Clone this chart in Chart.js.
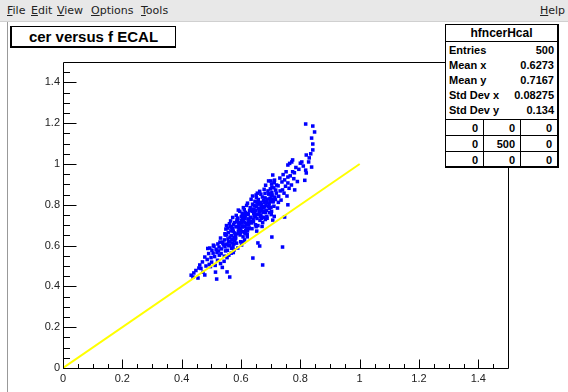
<!DOCTYPE html>
<html>
<head>
<meta charset="utf-8">
<script src="https://cdn.jsdelivr.net/npm/chart.js@4.4.1/dist/chart.umd.min.js"></script>
<style>
  html, body { margin:0; padding:0; background:#fff; }
  #wrap { position:relative; width:568px; height:392px; overflow:hidden; background:#fff; }
  #c { position:absolute; left:0; top:0; }
  #menu { position:absolute; left:0; top:0; width:568px; height:21px; background:#e8e8e8; border-bottom:1px solid #d0d0d0;
          font-family:"DejaVu Sans", sans-serif; font-size:11px; color:#222; }
  #menu span { position:absolute; top:4px; }
  #menu u { text-decoration:underline; }
  #leftline { position:absolute; left:7px; top:22px; width:0; height:370px; border-left:1px solid #999; }
  #title { position:absolute; left:10px; top:26px; width:163px; height:19px; border:1px solid #000; border-left:2px solid #000; border-bottom:2px solid #000;
           background:#fff; font-family:"Liberation Sans", Arial, sans-serif; font-weight:bold; font-size:15px; line-height:19px; text-align:center; color:#000; }
  #stats { position:absolute; left:445px; top:24px; width:111px; height:141px; border:1px solid #000; border-right:2px solid #000; border-bottom:2px solid #000;
           background:#fff; font-family:"Liberation Sans", Arial, sans-serif; font-weight:bold; font-size:11px; color:#000; }
  #stats .t { position:absolute; left:0; top:0; width:111px; height:16px; line-height:16px; text-align:center; font-size:12px; border-bottom:1px solid #000; }
  #stats .r { position:absolute; left:3px; width:105px; height:15px; line-height:15px; }
  #stats .r .k { position:absolute; left:0; }
  #stats .r .v { position:absolute; right:0; }
  #stats .g { position:absolute; left:0; width:111px; height:16px; border-top:1px solid #000; }
  #stats .g span { position:absolute; top:0; line-height:16px; text-align:right; }
  #stats .vl { position:absolute; top:94px; width:0; height:47px; border-left:1px solid #000; }
</style>
</head>
<body>
<div id="wrap">
  <canvas id="c" width="568" height="392"></canvas>
  <div id="menu">
    <span style="left:7px"><u>F</u>ile</span>
    <span style="left:31px"><u>E</u>dit</span>
    <span style="left:57px"><u>V</u>iew</span>
    <span style="left:91px"><u>O</u>ptions</span>
    <span style="left:141px"><u>T</u>ools</span>
    <span style="left:540px"><u>H</u>elp</span>
  </div>
  <div id="leftline"></div>
  <div id="title">cer versus f ECAL</div>
  <div id="stats"></div>
</div>
<script>
// ---- data ----
const statsName = "hfncerHcal";
const statLabels = ["Entries", "Mean x", "Mean y", "Std Dev x", "Std Dev y"];
const statValues = ["500", "0.6273", "0.7167", "0.08275", "0.134"];
const overflowGrid = [["0","0","0"],["0","500","0"],["0","0","0"]];

const xTickLabels = [0, 0.2, 0.4, 0.6, 0.8, 1, 1.2, 1.4];
const yTickLabels = [0, 0.2, 0.4, 0.6, 0.8, 1, 1.2, 1.4];
const xRange = [0, 1.5];
const yRange = [0, 1.5];

// reference line cer = f
const lineX = [0, 1];
const lineY = [0, 1];

// scatter: f ECAL (x) vs cer (y)
const fEcal = [
  0.432,0.441,0.438,0.455,0.448,0.461,0.465,0.472,0.478,0.478,0.470,0.482,0.458,
  0.486,0.491,0.493,0.495,0.499,0.502,0.501,0.506,0.509,0.511,0.513,0.516,0.518,0.519,0.522,0.521,0.526,0.527,0.529,0.531,0.488,0.497,0.507,0.514,0.524,
  0.534,0.531,0.537,0.539,0.533,0.546,0.541,0.544,0.548,0.543,
  0.547,0.552,0.549,0.546,0.556,0.551,0.553,0.558,0.554,0.557,
  0.556,0.561,0.563,0.559,0.566,0.562,0.562,0.564,0.568,0.567,
  0.571,0.565,0.569,0.574,0.572,0.576,0.573,0.578,0.575,0.579,
  0.577,0.574,0.581,0.579,0.576,0.583,0.553,0.567,0.572,0.544,
  0.538,0.551,0.559,0.569,0.561,
  0.583,0.586,0.581,0.588,0.584,0.591,0.585,0.593,0.589,0.589,
  0.594,0.588,0.597,0.592,0.596,0.599,0.593,0.601,0.598,0.603,
  0.599,0.604,0.607,0.602,0.608,0.606,0.611,0.604,0.612,0.609,
  0.614,0.608,0.616,0.611,0.617,0.613,0.619,0.621,0.615,0.618,
  0.623,0.622,0.619,0.626,0.624,0.628,0.621,0.629,0.627,0.632,
  0.626,0.582,0.595,0.598,0.606,0.612,0.613,0.624,0.625,0.587,
  0.592,0.601,0.605,0.614,0.616,0.628,0.602,0.609,0.622,0.591,
  0.633,0.631,0.636,0.638,0.634,0.641,0.637,0.643,0.639,0.640,
  0.645,0.642,0.647,0.644,0.649,0.646,0.651,0.648,0.652,0.653,
  0.649,0.656,0.654,0.658,0.655,0.659,0.657,0.657,0.661,0.662,
  0.658,0.664,0.661,0.666,0.663,0.665,0.668,0.663,0.669,0.671,
  0.667,0.672,0.673,0.669,0.674,0.673,0.676,0.677,0.675,0.678,
  0.679,0.676,0.681,0.682,0.635,0.642,0.647,0.654,0.661,0.668,
  0.678,0.639,0.651,0.667,0.644,0.656,0.671,0.683,0.637,0.652,
  0.684,0.681,0.686,0.689,0.683,0.692,0.687,0.694,0.688,0.691,
  0.696,0.693,0.698,0.695,0.699,0.697,0.702,0.699,0.703,0.701,
  0.704,0.706,0.702,0.704,0.704,0.708,0.705,0.707,0.707,0.711,
  0.709,0.712,0.714,0.711,0.717,0.716,0.720,0.719,0.723,0.725,
  0.727,0.731,0.686,0.694,0.703,0.713,0.726,0.688,0.701,0.712,
  0.732,0.735,0.738,0.740,0.740,0.742,0.745,0.747,0.747,0.750,
  0.752,0.755,0.758,0.758,0.758,0.758,0.762,0.764,0.766,0.770,
  0.771,0.774,0.774,0.778,0.780,0.781,0.785,0.790,0.795,0.800,
  0.805,0.810,0.815,0.818,0.818,0.820,0.820,0.828,0.830,0.838,0.838,0.842,0.842,0.842,0.848,0.835
];
const cer = [
  0.455,0.466,0.446,0.441,0.478,0.505,0.488,0.470,0.456,0.544,0.520,0.500,0.490,
  0.532,0.561,0.508,0.588,0.541,0.577,0.519,0.563,0.597,0.546,0.503,0.582,0.436,0.566,0.608,0.528,0.593,0.553,0.617,0.512,0.586,0.497,0.602,0.470,0.574,
  0.584,0.637,0.493,0.612,0.561,0.658,0.603,0.628,0.574,0.523,
  0.652,0.607,0.681,0.594,0.633,0.698,0.471,0.619,0.577,0.664,
  0.686,0.602,0.641,0.553,0.672,0.618,0.446,0.694,0.587,0.649,
  0.613,0.721,0.629,0.566,0.683,0.641,0.597,0.662,0.704,0.624,
  0.579,0.671,0.648,0.713,0.608,0.692,0.541,0.563,0.738,0.548,
  0.617,0.652,0.599,0.688,0.707,
  0.657,0.718,0.634,0.693,0.748,0.671,0.612,0.703,0.735,0.588,
  0.684,0.727,0.652,0.712,0.768,0.619,0.688,0.742,0.664,0.723,
  0.677,0.758,0.643,0.714,0.786,0.668,0.733,0.697,0.628,0.751,
  0.693,0.719,0.661,0.776,0.708,0.744,0.682,0.654,0.763,0.703,
  0.731,0.672,0.797,0.713,0.752,0.686,0.643,0.772,0.724,0.738,
  0.701,0.638,0.706,0.673,0.739,0.662,0.714,0.757,0.683,0.728,
  0.659,0.723,0.691,0.747,0.674,0.719,0.603,0.617,0.808,0.774,
  0.738,0.786,0.711,0.768,0.827,0.729,0.683,0.757,0.803,0.539,
  0.746,0.718,0.817,0.779,0.702,0.762,0.848,0.741,0.793,0.671,
  0.772,0.814,0.733,0.781,0.857,0.752,0.698,0.613,0.803,0.764,
  0.826,0.724,0.783,0.742,0.598,0.812,0.771,0.866,0.734,0.792,
  0.748,0.838,0.713,0.803,0.763,0.505,0.821,0.784,0.739,0.876,
  0.791,0.768,0.834,0.728,0.717,0.778,0.746,0.808,0.773,0.787,
  0.812,0.843,0.693,0.852,0.797,0.754,0.694,0.762,0.774,0.836,
  0.797,0.856,0.773,0.828,0.896,0.792,0.743,0.853,0.811,0.868,
  0.783,0.917,0.832,0.804,0.878,0.762,0.843,0.817,0.902,0.788,
  0.861,0.827,0.752,0.887,0.642,0.814,0.847,0.946,0.725,0.883,
  0.819,0.908,0.838,0.793,0.872,0.826,0.897,0.857,0.784,0.893,
  0.842,0.931,0.818,0.853,0.768,0.921,0.812,0.734,0.917,0.743,
  0.868,0.823,0.912,0.873,0.593,0.948,0.857,0.922,0.740,0.891,
  0.962,0.843,0.907,0.995,0.936,0.800,0.881,1.003,0.942,0.897,
  1.010,1.020,0.962,0.928,0.957,0.873,0.983,0.914,0.974,1.004,
  1.010,0.990,0.920,0.970,1.196,1.044,0.956,1.010,1.030,1.127,0.985,1.098,1.069,1.186,1.157,1.050
];
// minor tick marks (every 0.05) for the ROOT-style axes
const minorTicks = [0.05,0.1,0.15,0.25,0.3,0.35,0.45,0.5,0.55,0.65,0.7,0.75,0.85,0.9,0.95,1.05,1.1,1.15,1.25,1.3,1.35,1.45];

// ---- stats box ----
(function(){
  const box = document.getElementById('stats');
  let h = '<div class="t">' + statsName + '</div>';
  statLabels.forEach((k,i)=>{
    h += '<div class="r" style="top:' + (18 + i*15) + 'px"><span class="k">' + k + '</span><span class="v">' + statValues[i] + '</span></div>';
  });
  overflowGrid.forEach((row,r)=>{
    h += '<div class="g" style="top:' + (94 + r*16) + 'px">';
    row.forEach((v,c)=>{
      const right = [74, 37, 0][c] + 5;
      h += '<span style="right:' + right + 'px">' + v + '</span>';
    });
    h += '</div>';
  });
  h += '<div class="vl" style="left:37px"></div><div class="vl" style="left:74px"></div>';
  box.innerHTML = h;
})();

const fmt = v => String(Math.round(v*10)/10);

const rootAxes = {
  id: 'rootAxes',
  afterDatasetsDraw(chart) {
    const {ctx, chartArea: a, scales: {x, y}} = chart;
    ctx.save();
    ctx.strokeStyle = '#000';
    ctx.lineWidth = 1;
    ctx.beginPath();
    ctx.rect(Math.round(a.left)+0.5, Math.round(a.top)+0.5, Math.round(a.right-a.left), Math.round(a.bottom-a.top));
    const bx = Math.round(a.bottom)+0.5, ly = Math.round(a.left)+0.5;
    xTickLabels.forEach(v => { const px = Math.round(x.getPixelForValue(v))+0.5; ctx.moveTo(px, bx); ctx.lineTo(px, bx-9); });
    minorTicks.forEach(v => { const px = Math.round(x.getPixelForValue(v))+0.5; ctx.moveTo(px, bx); ctx.lineTo(px, bx-4.5); });
    yTickLabels.forEach(v => { const py = Math.round(y.getPixelForValue(v))+0.5; ctx.moveTo(ly, py); ctx.lineTo(ly+13, py); });
    minorTicks.forEach(v => { const py = Math.round(y.getPixelForValue(v))+0.5; ctx.moveTo(ly, py); ctx.lineTo(ly+6.5, py); });
    ctx.stroke();
    ctx.restore();
  }
};

const tickFont = {family: '"Liberation Sans", Arial, sans-serif', size: 11};

new Chart(document.getElementById('c'), {
  data: {
    datasets: [
      {
        type: 'scatter',
        data: fEcal.map((v,i) => ({x: v, y: cer[i]})),
        backgroundColor: '#0000ff',
        borderColor: '#0000ff',
        borderWidth: 0,
        pointStyle: 'rect',
        pointRadius: 2.5,
        order: 1
      },
      {
        type: 'line',
        data: lineX.map((v,i) => ({x: v, y: lineY[i]})),
        borderColor: '#ffff00',
        borderWidth: 2,
        pointRadius: 0,
        tension: 0,
        fill: false,
        order: 0
      }
    ]
  },
  options: {
    responsive: false,
    animation: false,
    devicePixelRatio: 1,
    layout: {padding: {left: 0, top: 62, right: 60, bottom: 0}},
    plugins: {legend: {display: false}, tooltip: {enabled: false}, title: {display: false}},
    scales: {
      x: {
        type: 'linear', min: xRange[0], max: xRange[1],
        afterFit(s) { s.height = 24; },
        afterBuildTicks(s) { s.ticks = xTickLabels.map(v => ({value: v})); },
        grid: {display: false, drawTicks: false},
        border: {display: false},
        ticks: {autoSkip: false, maxRotation: 0, padding: 4, font: tickFont, color: '#222', callback: v => fmt(v)}
      },
      y: {
        type: 'linear', min: yRange[0], max: yRange[1],
        afterFit(s) { s.width = 63; },
        afterBuildTicks(s) { s.ticks = yTickLabels.map(v => ({value: v})); },
        grid: {display: false, drawTicks: false},
        border: {display: false},
        ticks: {autoSkip: false, padding: 3, font: tickFont, color: '#222', callback: v => fmt(v)}
      }
    }
  },
  plugins: [rootAxes]
});
</script>
</body>
</html>
